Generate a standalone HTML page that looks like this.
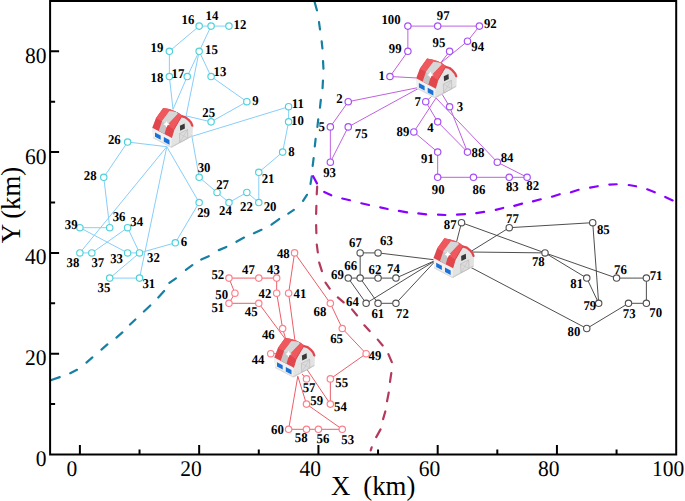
<!DOCTYPE html><html><head><meta charset="utf-8"><style>html,body{margin:0;padding:0;background:#fff;}svg{display:block;}</style></head><body><svg width="685" height="501" viewBox="0 0 685 501"><rect width="685" height="501" fill="#fff"/><clipPath id="pc"><rect x="51" y="2" width="624.2" height="451.5"/></clipPath><g clip-path="url(#pc)" fill="none" stroke-width="2.2" stroke-linecap="round"><path d="M314.68 2.18L316.92 10.32M319 22.19L320 29.41M321.68 41.4L322.42 48.3M323.04 61.1L323.46 68.7M322.96 80.5L322.54 88.2M320.82 99.9L319.98 107.6M318.22 119.4L317.38 127M315.62 138.8L314.78 146.5M313.62 158.19L312.68 165.91M311.78 176.29L310.52 183.91M306.93 194.79L303.07 200.91M293.82 209.89L288.28 213.61M279.14 219.02L271.46 224.68M261.46 229.79L253.94 233.21M243.99 237.54L236.41 241.76M226.35 246.97L218.85 250.13M208.76 256.18L201.24 259.52M192.33 265.11L185.87 269.79M175.93 278.3L169.37 282.9M164.13 291.02L158.27 297.48M150.29 305.48L143.91 311.52M135.39 319.48L130.01 324.52M122.37 332.46L116.43 337.54M107.37 344.46L101.43 349.54M92.37 357.46L86.43 362.54M76.97 369.81L70.23 373.19M59.74 377.13L50.66 380.27" stroke="#1580a4"/><path d="M313.13 176.22L316.97 183.38M324.23 191.9L331.27 195.3M342.28 198.55L349.92 200.25M361.28 203.25L368.92 204.95M380.28 207.36L387.62 209.04M398.89 210.92L407.11 212.38M418.29 213.29L426.11 214.31M438 214.72L445.4 214.98M457 214.65L465.1 214.05M476.29 213.09L484.11 211.91M495.78 209.83L503.22 207.97M514.28 205.82L522.12 203.68M532.97 201.41L540.73 199.29M551.97 196.69L559.73 194.21M570.97 192.29L578.63 189.81M590.09 187.67L597.71 186.23M609.3 184.57L616.7 184.23M628.79 185.02L636.11 186.28M647.25 189.27L654.75 192.33M665.23 196.9L672.67 200.4" stroke="#8800ff"/><path d="M317.16 186.7L316.74 194.3M316.38 205.8L316.12 214M316.12 225L316.38 233.2M316.79 244.69L317.81 252.31M319.21 262.67L321.89 271.13M325.5 282.67L329.7 288.63M337.83 297.45L343.67 302.45M352.04 309.34L357.06 315.46M364.37 325.32L369.63 331.08M377.75 339.64L382.65 345.46M388.38 354.14L391.82 362.16M391.3 373.09L390 381.81M388.76 392.59L387.04 401.21M385.31 411.47L383.09 419.13M380.56 429.41L376.24 437.09M371.68 447.37L370.72 450.33" stroke="#b33a5c"/></g><path d="M173 109.4L169.35 76.5M169.35 76.5L169.35 51.3M169.35 51.3L199.16 26.1M199.16 26.1L211.09 26.1M211.09 26.1L228.97 26.1M211.09 26.1L199.16 51.3M199.16 51.3L187.23 76.5M187.23 76.5L173 109.4M186.1 115.9L199.16 51.3M199.16 51.3L211.09 76.5M211.09 76.5L246.86 101.7M246.86 101.7L211.09 121.86M211.09 121.86L186.1 115.9M191.9 136.4L288.61 106.74M288.61 106.74L288.61 121.86M288.61 121.86L282.64 152.1M282.64 152.1L258.79 172.26M258.79 172.26L258.79 202.5M258.79 202.5L246.86 192.42M246.86 192.42L228.97 202.5M228.97 202.5L217.05 192.42M217.05 192.42L199.16 177.3M199.16 177.3L191.9 136.4M166.8 146.7L127.6 142.02M127.6 142.02L103.75 177.3M103.75 177.3L109.72 227.7M109.72 227.7L79.9 227.7M79.9 227.7L127.6 252.9M127.6 252.9L139.53 252.9M139.53 252.9L127.6 227.7M127.6 227.7L91.83 252.9M91.83 252.9L79.9 252.9M79.9 252.9L166.8 146.7M166.8 146.7L199.16 202.5M199.16 202.5L175.31 242.82M175.31 242.82L139.53 252.9M139.53 252.9L109.72 278.1M109.72 278.1L139.53 278.1M139.53 278.1L166.8 146.7" stroke="#87cefa" stroke-width="1" fill="none"/><path d="M389.98 76.5L407.87 51.3M407.87 51.3L407.87 26.1M407.87 26.1L437.68 26.1M437.68 26.1L479.42 26.1M479.42 26.1L467.5 41.22M467.5 41.22L440.2 63.5M449.61 51.3L440.2 63.5M389.98 76.5L421 78.2M348.24 101.7L421 87M348.24 101.7L330.35 126.9M330.35 126.9L330.35 162.18M330.35 162.18L348.24 126.9M348.24 126.9L421 87M425.75 101.7L432 96M425.75 101.7L437.68 121.86M437.68 121.86L467.5 152.1M467.5 152.1L449.61 106.74M449.61 106.74L442 94M413.83 131.94L436 98M413.83 131.94L437.68 152.1M437.68 152.1L437.68 177.3M437.68 177.3L473.46 177.3M473.46 177.3L509.24 177.3M509.24 177.3L527.12 177.3M527.12 177.3L497.31 162.18M497.31 162.18L436 98" stroke="#c060e0" stroke-width="1" fill="none"/><path d="M378.05 252.9L436.3 260M360.16 252.9L378.05 252.9M360.16 252.9L360.16 278.1M348.24 278.1L360.16 278.1M360.16 278.1L378.05 278.1M378.05 278.1L395.94 278.1M395.94 278.1L436.3 260M348.24 278.1L366.12 303.3M366.12 303.3L436.3 260M360.16 278.1L378.05 303.3M378.05 303.3L395.94 303.3M395.94 303.3L436.3 260M461.53 222.66L456 244M461.53 222.66L545.01 252.9M545.01 252.9L616.57 278.1M616.57 278.1L646.38 278.1M646.38 278.1L646.38 303.3M646.38 303.3L628.5 303.3M628.5 303.3L586.75 328.5M586.75 328.5L471 267.5M509.24 227.7L470 252M509.24 227.7L592.72 222.66M592.72 222.66L598.68 303.3M598.68 303.3L586.75 278.1M586.75 278.1L545.01 252.9M545.01 252.9L470 252" stroke="#3a3a3a" stroke-width="0.9" fill="none"/><path d="M282.64 328.5L286 340M282.64 328.5L276.68 293.22M276.68 293.22L276.68 278.1M276.68 278.1L258.79 278.1M258.79 278.1L228.97 278.1M228.97 278.1L234.94 293.22M234.94 293.22L228.97 303.3M228.97 303.3L258.79 303.3M258.79 303.3L286 340M288.61 293.22L295 341M288.61 293.22L294.57 252.9M294.57 252.9L330.35 303.3M330.35 303.3L342.27 328.5M342.27 328.5L366.12 353.7M366.12 353.7L330.35 378.9M330.35 378.9L330.35 404.1M330.35 404.1L306 368M270.72 353.7L278 353.5M306.49 378.9L302 374M306.49 404.1L297.8 376.2M306.49 404.1L342.27 429.3M342.27 429.3L318.42 429.3M318.42 429.3L306.49 429.3M306.49 429.3L288.61 429.3M288.61 429.3L297.8 376.2" stroke="#ea5560" stroke-width="0.95" fill="none"/><g fill="#fff" stroke="#4cd2da" stroke-width="1.15"><circle cx="175.31" cy="242.82" r="3.2"/><circle cx="282.64" cy="152.1" r="3.2"/><circle cx="246.86" cy="101.7" r="3.2"/><circle cx="288.61" cy="121.86" r="3.2"/><circle cx="288.61" cy="106.74" r="3.2"/><circle cx="228.97" cy="26.1" r="3.2"/><circle cx="211.09" cy="76.5" r="3.2"/><circle cx="211.09" cy="26.1" r="3.2"/><circle cx="199.16" cy="51.3" r="3.2"/><circle cx="199.16" cy="26.1" r="3.2"/><circle cx="187.23" cy="76.5" r="3.2"/><circle cx="169.35" cy="76.5" r="3.2"/><circle cx="169.35" cy="51.3" r="3.2"/><circle cx="258.79" cy="202.5" r="3.2"/><circle cx="258.79" cy="172.26" r="3.2"/><circle cx="246.86" cy="192.42" r="3.2"/><circle cx="228.97" cy="202.5" r="3.2"/><circle cx="211.09" cy="121.86" r="3.2"/><circle cx="127.6" cy="142.02" r="3.2"/><circle cx="217.05" cy="192.42" r="3.2"/><circle cx="103.75" cy="177.3" r="3.2"/><circle cx="199.16" cy="202.5" r="3.2"/><circle cx="199.16" cy="177.3" r="3.2"/><circle cx="139.53" cy="278.1" r="3.2"/><circle cx="139.53" cy="252.9" r="3.2"/><circle cx="127.6" cy="252.9" r="3.2"/><circle cx="127.6" cy="227.7" r="3.2"/><circle cx="109.72" cy="278.1" r="3.2"/><circle cx="109.72" cy="227.7" r="3.2"/><circle cx="91.83" cy="252.9" r="3.2"/><circle cx="79.9" cy="252.9" r="3.2"/><circle cx="79.9" cy="227.7" r="3.2"/></g><g fill="#fff" stroke="#a650f5" stroke-width="1.2"><circle cx="389.98" cy="76.5" r="3.2"/><circle cx="348.24" cy="101.7" r="3.2"/><circle cx="449.61" cy="106.74" r="3.2"/><circle cx="437.68" cy="121.86" r="3.2"/><circle cx="330.35" cy="126.9" r="3.2"/><circle cx="425.75" cy="101.7" r="3.2"/><circle cx="348.24" cy="126.9" r="3.2"/><circle cx="527.12" cy="177.3" r="3.2"/><circle cx="509.24" cy="177.3" r="3.2"/><circle cx="497.31" cy="162.18" r="3.2"/><circle cx="473.46" cy="177.3" r="3.2"/><circle cx="467.5" cy="152.1" r="3.2"/><circle cx="413.83" cy="131.94" r="3.2"/><circle cx="437.68" cy="177.3" r="3.2"/><circle cx="437.68" cy="152.1" r="3.2"/><circle cx="479.42" cy="26.1" r="3.2"/><circle cx="330.35" cy="162.18" r="3.2"/><circle cx="467.5" cy="41.22" r="3.2"/><circle cx="449.61" cy="51.3" r="3.2"/><circle cx="437.68" cy="26.1" r="3.2"/><circle cx="407.87" cy="51.3" r="3.2"/><circle cx="407.87" cy="26.1" r="3.2"/></g><g fill="#fff" stroke="#505050" stroke-width="1.1"><circle cx="378.05" cy="303.3" r="3.2"/><circle cx="378.05" cy="278.1" r="3.2"/><circle cx="378.05" cy="252.9" r="3.2"/><circle cx="366.12" cy="303.3" r="3.2"/><circle cx="360.16" cy="278.1" r="3.2"/><circle cx="360.16" cy="252.9" r="3.2"/><circle cx="348.24" cy="278.1" r="3.2"/><circle cx="646.38" cy="303.3" r="3.2"/><circle cx="646.38" cy="278.1" r="3.2"/><circle cx="395.94" cy="303.3" r="3.2"/><circle cx="628.5" cy="303.3" r="3.2"/><circle cx="395.94" cy="278.1" r="3.2"/><circle cx="616.57" cy="278.1" r="3.2"/><circle cx="509.24" cy="227.7" r="3.2"/><circle cx="545.01" cy="252.9" r="3.2"/><circle cx="598.68" cy="303.3" r="3.2"/><circle cx="586.75" cy="328.5" r="3.2"/><circle cx="586.75" cy="278.1" r="3.2"/><circle cx="592.72" cy="222.66" r="3.2"/><circle cx="461.53" cy="222.66" r="3.2"/></g><g fill="#fff" stroke="#ff7f8c" stroke-width="1.2"><circle cx="288.61" cy="293.22" r="3.2"/><circle cx="276.68" cy="293.22" r="3.2"/><circle cx="276.68" cy="278.1" r="3.2"/><circle cx="270.72" cy="353.7" r="3.2"/><circle cx="258.79" cy="303.3" r="3.2"/><circle cx="282.64" cy="328.5" r="3.2"/><circle cx="258.79" cy="278.1" r="3.2"/><circle cx="294.57" cy="252.9" r="3.2"/><circle cx="366.12" cy="353.7" r="3.2"/><circle cx="234.94" cy="293.22" r="3.2"/><circle cx="228.97" cy="303.3" r="3.2"/><circle cx="228.97" cy="278.1" r="3.2"/><circle cx="342.27" cy="429.3" r="3.2"/><circle cx="330.35" cy="404.1" r="3.2"/><circle cx="330.35" cy="378.9" r="3.2"/><circle cx="318.42" cy="429.3" r="3.2"/><circle cx="306.49" cy="378.9" r="3.2"/><circle cx="306.49" cy="429.3" r="3.2"/><circle cx="306.49" cy="404.1" r="3.2"/><circle cx="288.61" cy="429.3" r="3.2"/><circle cx="342.27" cy="328.5" r="3.2"/><circle cx="330.35" cy="303.3" r="3.2"/></g><defs><g id="barn"><polygon points="152.3,127.7 155.9,118.2 163.2,107.9 169.2,109.1 174,110.7 178.6,112.9 182.2,115.6 185.6,117.4 188.6,119.8 191.2,122.8 192.7,126 192.3,136.2 171.3,147.7 153.2,138.2" fill="#e2e2e2"/><polygon points="171.5,137.8 174,129.4 178.7,121.3 182.2,115.6 185.6,117.4 188.6,119.8 191.2,122.8 192.7,126 192.3,136.2 171.3,147.7" fill="#e3e3e3"/><polygon points="152.3,127.7 171.5,137.8 171.3,147.7 153.2,138.2" fill="#f1f1f1"/><polygon points="153.2,136.9 171.3,146.4 171.3,147.7 153.2,138.2" fill="#dcdcdc"/><polygon points="171.3,146.4 192.3,134.9 192.3,136.2 171.3,147.7" fill="#cbcbcb"/><polygon points="155,132.4 160.7,135.4 160.7,139.8 155,136.8" fill="#1a72d8"/><polygon points="163.8,137.1 169.5,140.1 169.5,144.8 163.8,141.8" fill="#1a72d8"/><polygon points="179.9,125.7 184.6,123.4 184.9,128.4 180.2,130.7" fill="#383838"/><polygon points="179.4,133.6 187.6,129.5 187.9,138.2 179.7,142.4" fill="#dcdcdc" stroke="#b4b4b4" stroke-width="0.6"/><path d="M179.4 133.6L187.9 138.2M187.6 129.5L179.7 142.4" stroke="#bdbdbd" stroke-width="0.5"/><polyline points="181.5,116.2 185.6,117.4 188.6,119.8 191.2,122.8 192.3,125.6" fill="none" stroke="#e3454c" stroke-width="2.3" stroke-linejoin="round" stroke-linecap="round"/><polygon points="152.3,127.7 155.9,118.2 163.2,107.9 169.2,109.1 174,110.7 178.6,112.9 182.2,115.6 178.7,121.3 174,129.4 171.5,137.8" fill="#e2464d"/><polygon points="155.9,118.2 163.2,107.9 169.2,109.1 174,110.7 178.6,112.9 182.2,115.6 178.7,121.3 174,129.4 167.2,124.8 162,121.3" fill="#ef595e"/><polygon points="169.6,111.1 176.6,112.3 177.6,113.8 167.2,124.8 164.4,134.2 158.8,130.8 162,121.3" fill="#c5c5c5"/><polygon points="169.6,111.1 176.6,112.3 177.6,113.8 167.2,124.8 162,121.3" fill="#d6d6d6"/><polyline points="171.5,137.8 174,129.4 178.7,121.3 182.2,115.6" fill="none" stroke="#dc4148" stroke-width="0.9" stroke-linejoin="round"/><path d="M166.5 121Q167.05 123.75 169.8 124.3Q167.05 124.85 166.5 127.6Q165.95 124.85 163.2 124.3Q165.95 123.75 166.5 121Z" fill="#fff"/></g></defs><use href="#barn" transform="translate(0 0)"/><use href="#barn" transform="translate(263.9 -49.4)"/><use href="#barn" transform="translate(281.2 130.3)"/><use href="#barn" transform="translate(122 229.8)"/><g font-family="Liberation Serif" font-weight="bold" font-size="12.8" text-anchor="middle" fill="#000" text-rendering="geometricPrecision"><text transform="translate(184 246) scale(1 1.05)">6</text><text transform="translate(291.5 155.5) scale(1 1.05)">8</text><text transform="translate(255.5 105.2) scale(1 1.05)">9</text><text transform="translate(297.5 125) scale(1 1.05)">10</text><text transform="translate(297.8 107.9) scale(1 1.05)">11</text><text transform="translate(240 29.4) scale(1 1.05)">12</text><text transform="translate(220 75.6) scale(1 1.05)">13</text><text transform="translate(212 19.8) scale(1 1.05)">14</text><text transform="translate(211.4 54) scale(1 1.05)">15</text><text transform="translate(188 24) scale(1 1.05)">16</text><text transform="translate(178 78.3) scale(1 1.05)">17</text><text transform="translate(156.9 82.2) scale(1 1.05)">18</text><text transform="translate(156.9 52.2) scale(1 1.05)">19</text><text transform="translate(270.1 211.3) scale(1 1.05)">20</text><text transform="translate(268.1 183.1) scale(1 1.05)">21</text><text transform="translate(246.4 211.3) scale(1 1.05)">22</text><text transform="translate(225.4 215.2) scale(1 1.05)">24</text><text transform="translate(208.7 117.1) scale(1 1.05)">25</text><text transform="translate(114.3 143.7) scale(1 1.05)">26</text><text transform="translate(222.6 188.5) scale(1 1.05)">27</text><text transform="translate(90.2 180.1) scale(1 1.05)">28</text><text transform="translate(203.6 216.5) scale(1 1.05)">29</text><text transform="translate(204.1 172.1) scale(1 1.05)">30</text><text transform="translate(148.8 287.7) scale(1 1.05)">31</text><text transform="translate(153.5 261.7) scale(1 1.05)">32</text><text transform="translate(116.6 262.6) scale(1 1.05)">33</text><text transform="translate(136.7 225.7) scale(1 1.05)">34</text><text transform="translate(104 292.4) scale(1 1.05)">35</text><text transform="translate(119.1 221.2) scale(1 1.05)">36</text><text transform="translate(97.8 266.7) scale(1 1.05)">37</text><text transform="translate(73 266.7) scale(1 1.05)">38</text><text transform="translate(71.2 229) scale(1 1.05)">39</text><text transform="translate(381.8 79.6) scale(1 1.05)">1</text><text transform="translate(339.5 102.8) scale(1 1.05)">2</text><text transform="translate(460 111.3) scale(1 1.05)">3</text><text transform="translate(430.5 131.7) scale(1 1.05)">4</text><text transform="translate(321.7 131.2) scale(1 1.05)">5</text><text transform="translate(417.6 105.7) scale(1 1.05)">7</text><text transform="translate(361.2 138) scale(1 1.05)">75</text><text transform="translate(532.7 190) scale(1 1.05)">82</text><text transform="translate(512.3 190.5) scale(1 1.05)">83</text><text transform="translate(507.1 161.9) scale(1 1.05)">84</text><text transform="translate(479 194) scale(1 1.05)">86</text><text transform="translate(478 156.5) scale(1 1.05)">88</text><text transform="translate(403 135.7) scale(1 1.05)">89</text><text transform="translate(438.2 194) scale(1 1.05)">90</text><text transform="translate(427.5 163.3) scale(1 1.05)">91</text><text transform="translate(490.3 27.6) scale(1 1.05)">92</text><text transform="translate(329.6 176.5) scale(1 1.05)">93</text><text transform="translate(477.7 50.9) scale(1 1.05)">94</text><text transform="translate(439 46.8) scale(1 1.05)">95</text><text transform="translate(443.2 19.8) scale(1 1.05)">97</text><text transform="translate(395.2 53.2) scale(1 1.05)">99</text><text transform="translate(391 24) scale(1 1.05)">100</text><text transform="translate(377.8 317.9) scale(1 1.05)">61</text><text transform="translate(374.9 273.8) scale(1 1.05)">62</text><text transform="translate(386.4 244.6) scale(1 1.05)">63</text><text transform="translate(352.5 306.2) scale(1 1.05)">64</text><text transform="translate(350.7 270.2) scale(1 1.05)">66</text><text transform="translate(355.5 247) scale(1 1.05)">67</text><text transform="translate(337.5 278.8) scale(1 1.05)">69</text><text transform="translate(655.7 317) scale(1 1.05)">70</text><text transform="translate(656.1 280.2) scale(1 1.05)">71</text><text transform="translate(402.4 317.9) scale(1 1.05)">72</text><text transform="translate(629.2 318.4) scale(1 1.05)">73</text><text transform="translate(393.4 272.6) scale(1 1.05)">74</text><text transform="translate(620.4 274.4) scale(1 1.05)">76</text><text transform="translate(512.4 222.7) scale(1 1.05)">77</text><text transform="translate(538.3 266.2) scale(1 1.05)">78</text><text transform="translate(589.8 309.6) scale(1 1.05)">79</text><text transform="translate(574 336.3) scale(1 1.05)">80</text><text transform="translate(576.7 287.7) scale(1 1.05)">81</text><text transform="translate(603.3 234.4) scale(1 1.05)">85</text><text transform="translate(450.2 228.5) scale(1 1.05)">87</text><text transform="translate(300 297.6) scale(1 1.05)">41</text><text transform="translate(265 297.6) scale(1 1.05)">42</text><text transform="translate(273.5 274.2) scale(1 1.05)">43</text><text transform="translate(258.1 363.8) scale(1 1.05)">44</text><text transform="translate(251.2 316.4) scale(1 1.05)">45</text><text transform="translate(268.3 338.7) scale(1 1.05)">46</text><text transform="translate(248.4 274.2) scale(1 1.05)">47</text><text transform="translate(283.3 258.4) scale(1 1.05)">48</text><text transform="translate(375 359.5) scale(1 1.05)">49</text><text transform="translate(221.7 298.5) scale(1 1.05)">50</text><text transform="translate(217.8 312) scale(1 1.05)">51</text><text transform="translate(217.8 279.3) scale(1 1.05)">52</text><text transform="translate(347.7 443.9) scale(1 1.05)">53</text><text transform="translate(340.4 410.6) scale(1 1.05)">54</text><text transform="translate(341.7 386.7) scale(1 1.05)">55</text><text transform="translate(322.9 442.9) scale(1 1.05)">56</text><text transform="translate(309.1 392) scale(1 1.05)">57</text><text transform="translate(301.2 441.9) scale(1 1.05)">58</text><text transform="translate(316.7 405) scale(1 1.05)">59</text><text transform="translate(277.5 434) scale(1 1.05)">60</text><text transform="translate(336.6 342.9) scale(1 1.05)">65</text><text transform="translate(319.9 315.6) scale(1 1.05)">68</text></g><rect x="50.1" y="1" width="626.1" height="453.5" fill="none" stroke="#000" stroke-width="2"/><path d="M79.9 454.5V445M139.53 454.5V449.5M199.16 454.5V445M258.79 454.5V449.5M318.42 454.5V445M378.05 454.5V449.5M437.68 454.5V445M497.31 454.5V449.5M556.94 454.5V445M616.57 454.5V449.5M50.1 404.1H55.1M50.1 353.7H59.1M50.1 303.3H55.1M50.1 252.9H59.1M50.1 202.5H55.1M50.1 152.1H59.1M50.1 101.7H55.1M50.1 51.3H59.1" stroke="#000" stroke-width="2" fill="none"/><g font-family="Liberation Serif" font-size="21.5" fill="#000" text-rendering="geometricPrecision"><text transform="translate(71.8 476) scale(1 1.04)" text-anchor="middle">0</text><text transform="translate(191.06 476) scale(1 1.04)" text-anchor="middle">20</text><text transform="translate(310.32 476) scale(1 1.04)" text-anchor="middle">40</text><text transform="translate(429.58 476) scale(1 1.04)" text-anchor="middle">60</text><text transform="translate(548.84 476) scale(1 1.04)" text-anchor="middle">80</text><text transform="translate(668.1 476) scale(1 1.04)" text-anchor="middle">100</text><text transform="translate(46.5 466) scale(1 1.04)" text-anchor="end">0</text><text transform="translate(46.5 365.2) scale(1 1.04)" text-anchor="end">20</text><text transform="translate(46.5 264.4) scale(1 1.04)" text-anchor="end">40</text><text transform="translate(46.5 163.6) scale(1 1.04)" text-anchor="end">60</text><text transform="translate(46.5 62.8) scale(1 1.04)" text-anchor="end">80</text></g><g font-family="Liberation Serif" font-size="26.8" fill="#000"><text x="331" y="495.3">X</text><text x="363.3" y="495.3">(km)</text><text transform="translate(20.3 243.2) rotate(-90)">Y</text><text transform="translate(20.3 218.8) rotate(-90)">(km)</text></g></svg></body></html>
